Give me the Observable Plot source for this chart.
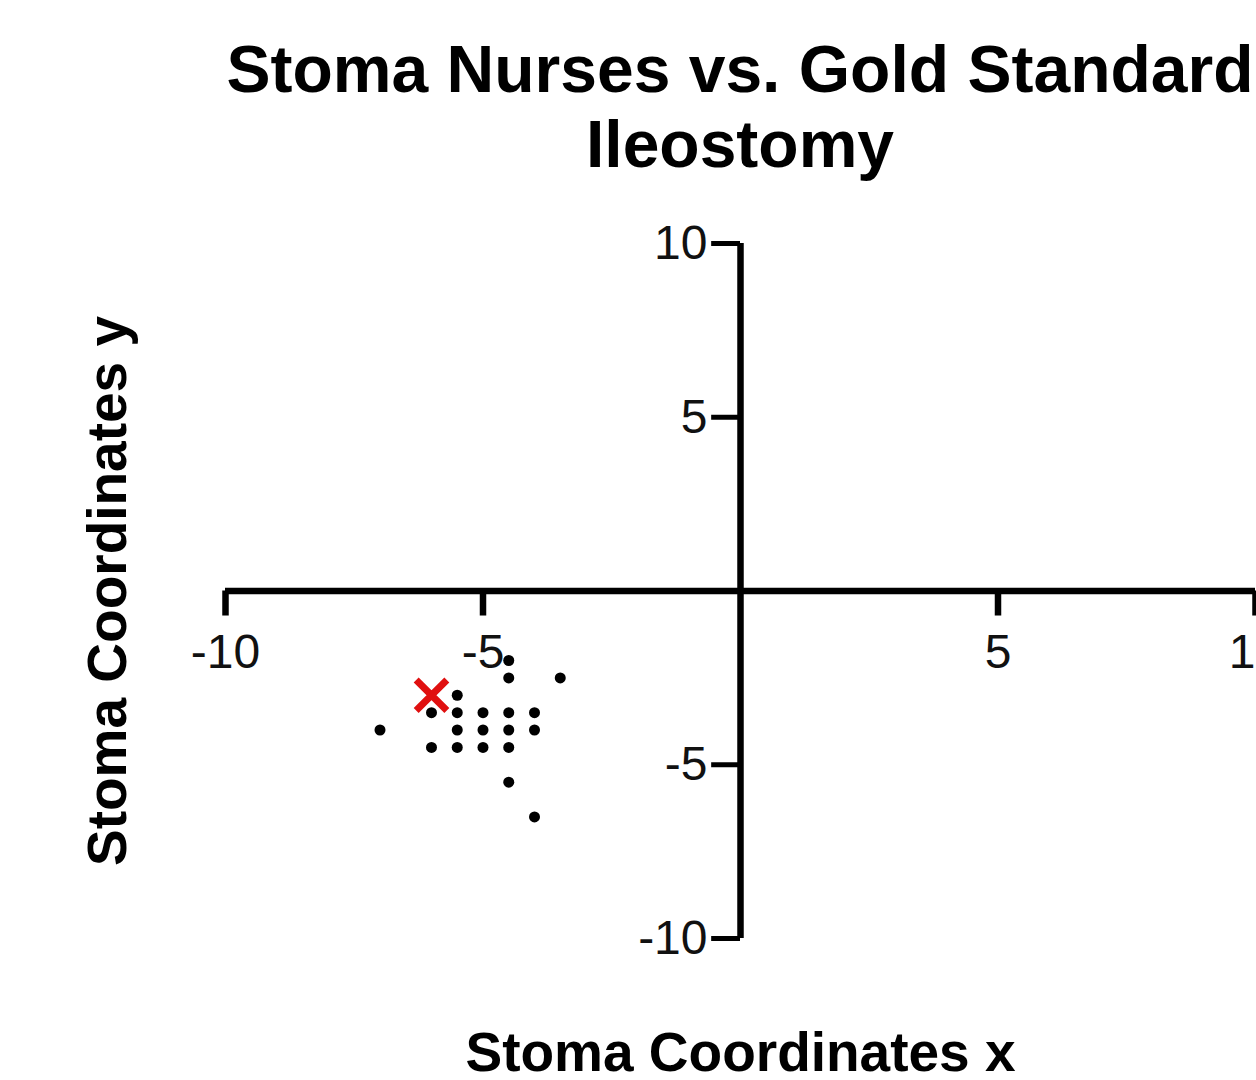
<!DOCTYPE html>
<html>
<head>
<meta charset="utf-8">
<script src="https://cdn.jsdelivr.net/npm/d3@7"></script>
<script src="https://cdn.jsdelivr.net/npm/@observablehq/plot@0.6"></script>
<style>
  html, body { margin: 0; padding: 0; background: #fff; width: 1256px; height: 1080px; overflow: hidden; }
  #title { width: 1480px; height: 200px; box-sizing: border-box; padding-top: 32px; text-align: center;
           font-family: "Liberation Sans", Arial, sans-serif; font-weight: bold; font-size: 66px; line-height: 75px; color: #000; }
  #chart { width: 1256px; overflow: hidden; }
  #chart svg { display: block; max-width: none !important; }
</style>
</head>
<body>
<div id="title">Stoma Nurses vs. Gold Standard<br>Ileostomy</div>
<div id="chart"></div>
<script>
const titleLines = ["Stoma Nurses vs. Gold Standard", "Ileostomy"];
const xLabel = "Stoma Coordinates x";
const yLabel = "Stoma Coordinates y";
const xTicks = [-10, -5, 5, 10];
const yTicks = [10, 5, -5, -10];
const nurseX = [-4.5, -4.5, -3.5, -5.5, -6, -5.5, -5, -4.5, -4, -7, -5.5, -5, -4.5, -4, -6, -5.5, -5, -4.5, -4.5, -4];
const nurseY = [-2, -2.5, -2.5, -3, -3.5, -3.5, -3.5, -3.5, -3.5, -4, -4, -4, -4, -4, -4.5, -4.5, -4.5, -4.5, -5.5, -6.5];
const goldX = [-6];
const goldY = [-3];

const nurses = nurseX.map((x, i) => ({x, y: nurseY[i]}));
const gold = goldX.map((x, i) => ({x, y: goldY[i]}));

const font = "Liberation Sans, Arial, sans-serif";
const xTickLen = 0.72;  // in y units (~25px)
const yTickLen = 0.56;  // in x units (~29px)

const plot = Plot.plot({
  width: 1300,
  height: 880,
  marginLeft: 225,
  marginRight: 45,
  marginTop: 43,
  marginBottom: 142,
  style: {fontFamily: font, background: "#fff", maxWidth: "none"},
  x: {domain: [-10, 10], axis: null},
  y: {domain: [-10, 10], axis: null},
  marks: [
    // axes
    Plot.ruleY([0], {x1: -10, x2: 10, stroke: "#000", strokeWidth: 6.5}),
    Plot.ruleX([0], {y1: -10, y2: 10, stroke: "#000", strokeWidth: 6.5}),
    Plot.ruleX(xTicks, {x: d => d, y1: 0, y2: -xTickLen, stroke: "#000", strokeWidth: 6.5}),
    Plot.ruleY(yTicks, {y: d => d, x1: 0, x2: -yTickLen, stroke: "#000", strokeWidth: 5}),
    Plot.text(xTicks, {x: d => d, y: 0, text: d => String(d), dy: 62, fontSize: 48, fill: "#111", textAnchor: "middle", lineAnchor: "middle"}),
    Plot.text(yTicks, {x: 0, y: d => d, text: d => String(d), dx: -33, fontSize: 48, fill: "#111", textAnchor: "end", lineAnchor: "middle"}),
    // axis titles
    Plot.text([yLabel], {frameAnchor: "left", text: d => d, rotate: -90, dx: -117, fontSize: 55, fontWeight: "bold", fill: "#000", textAnchor: "middle", lineAnchor: "middle"}),
    Plot.text([xLabel], {frameAnchor: "bottom", text: d => d, dy: 132, fontSize: 55, fontWeight: "bold", fill: "#000", textAnchor: "middle", lineAnchor: "bottom"}),
    // data
    Plot.dot(nurses, {x: "x", y: "y", r: 5.5, fill: "#000", stroke: "none"}),
    Plot.dot(gold, {x: "x", y: "y", symbol: "times", r: 14, stroke: "#e01010", strokeWidth: 7, fill: "none"})
  ]
});
document.getElementById("chart").appendChild(plot);
</script>
</body>
</html>
